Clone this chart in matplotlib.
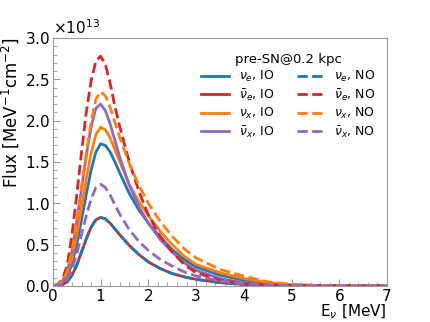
import numpy as np
import matplotlib
matplotlib.use('Agg')
import matplotlib.pyplot as plt
from matplotlib.ticker import MultipleLocator, ScalarFormatter

# neutrino energy grid [MeV]
energy = [0, 0.1, 0.2, 0.3, 0.4, 0.5, 0.6, 0.7, 0.8, 0.9, 1.0, 1.1, 1.2, 1.3, 1.4,
          1.6, 1.8, 2.0, 2.25, 2.5, 2.75, 3.0, 3.5, 4.0, 4.5, 5.0, 5.5, 6.0, 7.0]

# flux in units of 1e13 MeV^-1 cm^-2
nue_io = [0, 0.01, 0.04, 0.11, 0.27, 0.50, 0.80, 1.11, 1.40, 1.62, 1.72, 1.70, 1.62, 1.50, 1.37,
          1.12, 0.92, 0.76, 0.59, 0.44, 0.32, 0.23, 0.13, 0.07, 0.03, 0.012, 0.005, 0.002, 0]
nuebar_io = [0, 0.005, 0.015, 0.05, 0.13, 0.25, 0.41, 0.57, 0.71, 0.80, 0.83, 0.81, 0.76, 0.69, 0.62,
             0.49, 0.38, 0.29, 0.21, 0.15, 0.11, 0.08, 0.04, 0.018, 0.008, 0.003, 0.001, 0.0005, 0]
nux_io = [0, 0.015, 0.05, 0.15, 0.34, 0.62, 0.95, 1.30, 1.60, 1.83, 1.92, 1.89, 1.79, 1.65, 1.50,
          1.23, 1.02, 0.85, 0.66, 0.50, 0.36, 0.26, 0.16, 0.09, 0.04, 0.015, 0.006, 0.002, 0]
nuxbar_io = [0, 0.015, 0.05, 0.17, 0.42, 0.78, 1.18, 1.58, 1.92, 2.15, 2.20, 2.12, 1.96, 1.76, 1.56,
             1.22, 0.96, 0.76, 0.56, 0.41, 0.28, 0.19, 0.09, 0.04, 0.015, 0.006, 0.002, 0.001, 0]

nue_no = [0, 0.005, 0.015, 0.05, 0.13, 0.25, 0.41, 0.57, 0.71, 0.80, 0.83, 0.81, 0.76, 0.69, 0.62,
          0.49, 0.38, 0.29, 0.21, 0.15, 0.11, 0.08, 0.04, 0.018, 0.008, 0.003, 0.001, 0.0005, 0]
nuebar_no = [0, 0.02, 0.08, 0.25, 0.62, 1.10, 1.62, 2.10, 2.48, 2.72, 2.78, 2.68, 2.45, 2.17, 1.93,
             1.50, 1.15, 0.86, 0.60, 0.41, 0.26, 0.16, 0.07, 0.03, 0.012, 0.005, 0.002, 0.001, 0]
nux_no = [0, 0.02, 0.06, 0.18, 0.42, 0.78, 1.18, 1.60, 1.98, 2.26, 2.35, 2.30, 2.16, 1.98, 1.80,
          1.48, 1.22, 1.00, 0.78, 0.60, 0.45, 0.34, 0.20, 0.12, 0.05, 0.02, 0.008, 0.003, 0]
nuxbar_no = [0, 0.008, 0.025, 0.08, 0.20, 0.39, 0.62, 0.85, 1.05, 1.19, 1.23, 1.19, 1.10, 0.98, 0.87,
             0.68, 0.54, 0.43, 0.32, 0.24, 0.17, 0.12, 0.06, 0.025, 0.01, 0.004, 0.002, 0.001, 0]

labels = [r'$\nu_e$, IO', r'$\bar{\nu}_e$, IO', r'$\nu_x$, IO', r'$\bar{\nu}_x$, IO',
          r'$\nu_e$, NO', r'$\bar{\nu}_e$, NO', r'$\nu_x$, NO', r'$\bar{\nu}_x$, NO']
colors = ['#1f77b4', '#d62728', '#ff7f0e', '#9467bd']

E = np.array(energy)
series = [nue_io, nuebar_io, nux_io, nuxbar_io, nue_no, nuebar_no, nux_no, nuxbar_no]

fig = plt.figure(figsize=(4.3, 3.22), dpi=100)
ax = fig.add_axes([0.123, 0.112, 0.777, 0.770])

for i, (vals, lab) in enumerate(zip(series, labels)):
    ls = '-' if i < 4 else '--'
    ax.plot(E, np.array(vals) * 1e13, color=colors[i % 4], ls=ls, lw=2, label=lab)

ax.set_xlim(0, 7)
ax.set_ylim(0, 3e13)
ax.xaxis.set_major_locator(MultipleLocator(1))
ax.xaxis.set_minor_locator(MultipleLocator(0.2))
ax.yaxis.set_major_locator(MultipleLocator(0.5e13))
ax.yaxis.set_minor_locator(MultipleLocator(0.1e13))
fmt = ScalarFormatter(useMathText=True)
fmt.set_powerlimits((0, 0))
ax.yaxis.set_major_formatter(fmt)
ax.yaxis.get_offset_text().set_fontsize(11)

for s in ax.spines.values():
    s.set_color('#999999')
ax.tick_params(which='both', direction='in', color='#999999', labelsize=11, pad=2)
ax.tick_params(which='major', length=5)
ax.tick_params(which='minor', length=3)

ax.set_xlabel(r'E$_\nu$ [MeV]', fontsize=11, loc='right', labelpad=-1)
ax.set_ylabel(r'Flux [MeV$^{-1}$cm$^{-2}$]', fontsize=12, loc='top', labelpad=3)

ax.legend(ncol=2, title='pre-SN@0.2 kpc', fontsize=9, title_fontsize=9.5, frameon=False,
          handlelength=2.2, handletextpad=0.8, columnspacing=1.8, labelspacing=0.25,
          loc='upper right', bbox_to_anchor=(1.0, 0.985))

fig.savefig('out.png', dpi=100)
